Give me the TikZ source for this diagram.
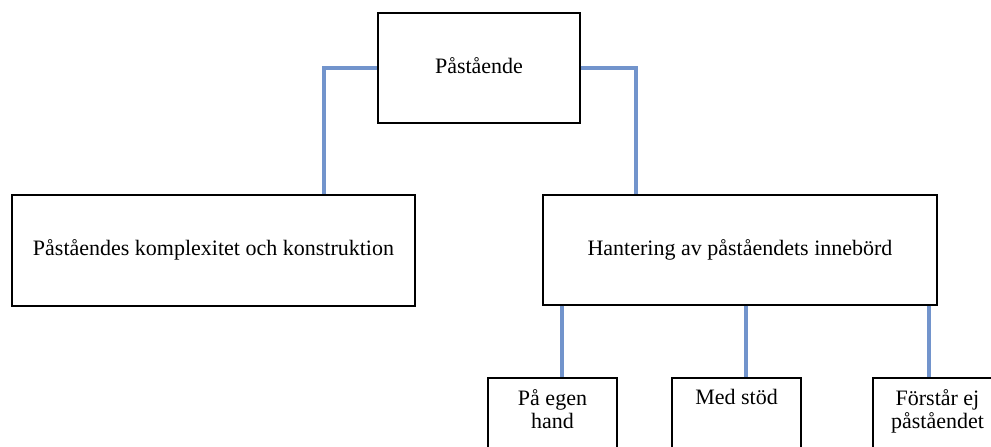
\documentclass[tikz,border=0pt]{standalone}
\usepackage{fontspec}
\setmainfont{Liberation Serif}
\newcommand{\up}[1]{\raisebox{5pt}{#1}}
\begin{document}
\begin{tikzpicture}[x=1pt,y=-1pt,
  box/.style={draw=black,line width=1.2pt,rectangle,inner sep=0pt,font=\fontsize{22}{24}\selectfont},
  leaf/.style={box,minimum width=129pt,minimum height=100pt},
  lbl/.style={font=\fontsize{22}{23}\selectfont,align=center,anchor=north,inner sep=0pt,yshift=-12pt},
  conn/.style={draw={rgb,255:red,114;green,148;blue,204},line width=4pt}]
\useasboundingbox (0,0) rectangle (991,447);
\clip (0,0) rectangle (991,447);
\node[box,minimum width=202pt,minimum height=110pt] (top) at (479,68) {\up{Påstående}};
\node[box,minimum width=403pt,minimum height=111pt] (left) at (213.5,250.5) {\up{Påståendes komplexitet och konstruktion}};
\node[box,minimum width=394pt,minimum height=110pt] (right) at (740,250) {\up{Hantering av påståendets innebörd}};
\node[leaf,label={[lbl]north:På egen\\hand}] (b1) at (552.5,428) {};
\node[leaf,label={[lbl]north:Med stöd}] (b2) at (736.5,428) {};
\node[leaf,label={[lbl]north:Förstår ej\\påståendet}] (b3) at (937.5,428) {};
\coordinate (lj) at (324,0);
\coordinate (rj) at (636,0);
\coordinate (x1) at (562,0);
\coordinate (x2) at (746,0);
\coordinate (x3) at (929,0);
\draw[conn] (top.west) -| (left.north -| lj);
\draw[conn] (top.east) -| (right.north -| rj);
\draw[conn] (right.south -| x1) -- (b1.north -| x1);
\draw[conn] (right.south -| x2) -- (b2.north -| x2);
\draw[conn] (right.south -| x3) -- (b3.north -| x3);
\end{tikzpicture}
\end{document}
